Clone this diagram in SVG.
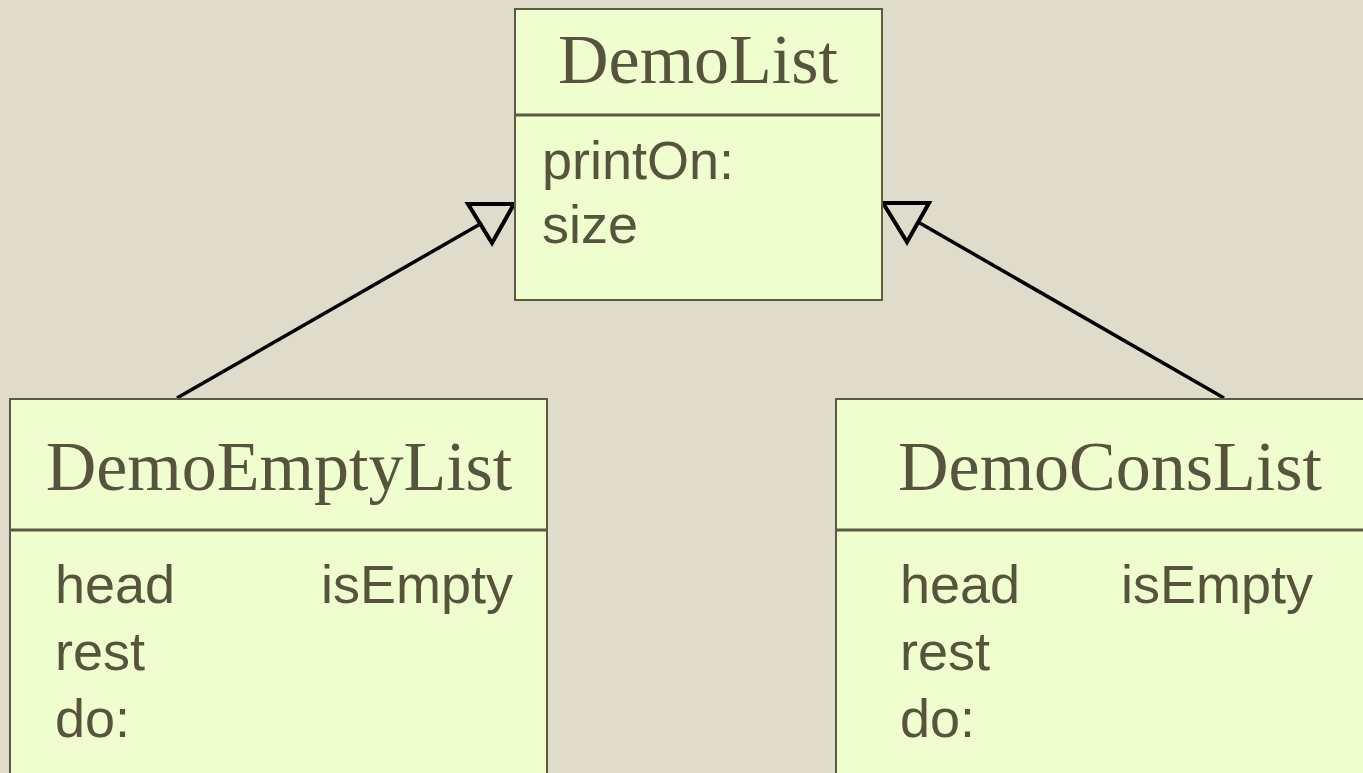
<svg xmlns="http://www.w3.org/2000/svg" width="1363" height="773" viewBox="0 0 1363 773">
  <style>
    .box { fill: #effdcf; stroke: #5d5a42; stroke-width: 2; }
    .div { stroke: #5d5a42; stroke-width: 3; }
    .title { font-family: "Liberation Serif", "Times New Roman", serif; font-size: 70px; fill: #57543d; text-anchor: middle; }
    .item { font-family: "Liberation Sans", Arial, sans-serif; font-size: 54px; fill: #57543d; }
    .conn { stroke: #000; stroke-width: 3.5; fill: none; }
    .head { stroke: #000; stroke-width: 4; fill: none; stroke-linejoin: miter; }
  </style>
  <rect x="0" y="0" width="1363" height="773" fill="#dfdccb"/>
  <g id="connectors">
    <line class="conn" x1="177" y1="398" x2="482" y2="223"/>
    <polygon class="head" points="468,204 514,204 492,243"/>
    <line class="conn" x1="1224" y1="398" x2="918" y2="222"/>
    <polygon class="head" points="883,203 929,203 907,242"/>
  </g>
  <g id="DemoList">
    <rect class="box" x="515" y="9" width="367" height="291"/>
    <line class="div" x1="515" y1="115" x2="880" y2="115"/>
    <text class="title" x="698" y="83">DemoList</text>
    <text class="item" x="542" y="179">printOn:</text>
    <text class="item" x="542" y="243">size</text>
  </g>
  <g id="DemoEmptyList">
    <rect class="box" x="10" y="399" width="537" height="400"/>
    <line class="div" x1="10" y1="530" x2="547" y2="530"/>
    <text class="title" x="279" y="490">DemoEmptyList</text>
    <text class="item" x="55" y="603">head</text>
    <text class="item" x="321" y="603">isEmpty</text>
    <text class="item" x="55" y="670">rest</text>
    <text class="item" x="55" y="737">do:</text>
  </g>
  <g id="DemoConsList">
    <rect class="box" x="836" y="399" width="537" height="400"/>
    <line class="div" x1="836" y1="530" x2="1373" y2="530"/>
    <text class="title" x="1110" y="490">DemoConsList</text>
    <text class="item" x="900" y="603">head</text>
    <text class="item" x="1121" y="603">isEmpty</text>
    <text class="item" x="900" y="670">rest</text>
    <text class="item" x="900" y="737">do:</text>
  </g>
</svg>
